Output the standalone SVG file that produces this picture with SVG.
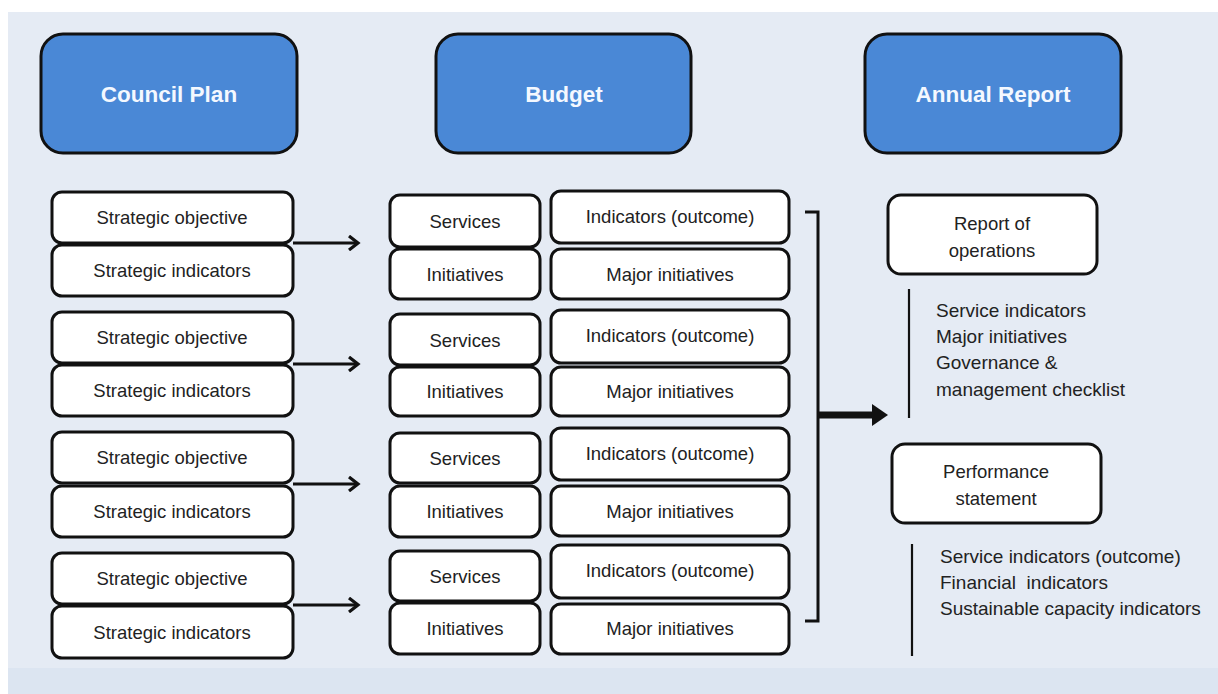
<svg xmlns="http://www.w3.org/2000/svg" width="1218" height="694" viewBox="0 0 1218 694">
<style>
.hdr{fill:#4a88d6;stroke:#111;stroke-width:3}
.hdrt{font-family:"Liberation Sans",Arial,sans-serif;font-weight:bold;font-size:22.5px;fill:#f4f8ff;text-anchor:middle}
.box{fill:#fff;stroke:#111;stroke-width:3}
.t{font-family:"Liberation Sans",Arial,sans-serif;font-size:18.5px;fill:#222;text-anchor:middle}
.l{font-family:"Liberation Sans",Arial,sans-serif;font-size:19px;fill:#222}
.c{stroke:#111;stroke-width:3;fill:none}
</style>
<defs>
<marker id="ah" markerWidth="14" markerHeight="16" refX="11" refY="8" orient="auto" markerUnits="userSpaceOnUse">
<path d="M2,1 L11,8 L2,15" fill="none" stroke="#111" stroke-width="3.2"/>
</marker>
<marker id="big" markerWidth="16" markerHeight="22" refX="2" refY="11" orient="auto" markerUnits="userSpaceOnUse">
<path d="M0,0 L16,11 L0,22 Z" fill="#111"/>
</marker>
</defs>
<rect width="1218" height="694" fill="#fff"/>
<rect x="8" y="12" width="1210" height="682" fill="#e5ebf4"/>
<rect x="8" y="668" width="1210" height="26" fill="#dce5f1"/>

<g id="hdr-council"><rect class="hdr" x="41" y="34" width="256" height="119" rx="22"/><text class="hdrt" x="169" y="102">Council Plan</text></g>
<g id="hdr-budget"><rect class="hdr" x="436" y="34" width="255" height="119" rx="22"/><text class="hdrt" x="564" y="102">Budget</text></g>
<g id="hdr-annual"><rect class="hdr" x="865" y="34" width="256" height="119" rx="22"/><text class="hdrt" x="993" y="102">Annual Report</text></g>

<g id="so1"><rect class="box" x="52" y="192" width="241" height="51" rx="10"/><text class="t" x="172" y="224">Strategic objective</text></g>
<g id="si1"><rect class="box" x="52" y="245" width="241" height="51" rx="10"/><text class="t" x="172" y="277">Strategic indicators</text></g>
<g id="so2"><rect class="box" x="52" y="312" width="241" height="51" rx="10"/><text class="t" x="172" y="344">Strategic objective</text></g>
<g id="si2"><rect class="box" x="52" y="365" width="241" height="51" rx="10"/><text class="t" x="172" y="397">Strategic indicators</text></g>
<g id="so3"><rect class="box" x="52" y="432" width="241" height="51" rx="10"/><text class="t" x="172" y="464">Strategic objective</text></g>
<g id="si3"><rect class="box" x="52" y="486" width="241" height="51" rx="10"/><text class="t" x="172" y="518">Strategic indicators</text></g>
<g id="so4"><rect class="box" x="52" y="553" width="241" height="51" rx="10"/><text class="t" x="172" y="585">Strategic objective</text></g>
<g id="si4"><rect class="box" x="52" y="606" width="241" height="52" rx="10"/><text class="t" x="172" y="639">Strategic indicators</text></g>

<g id="sv1"><rect class="box" x="390" y="195" width="150" height="52" rx="10"/><text class="t" x="465" y="228">Services</text></g>
<g id="in1"><rect class="box" x="390" y="249" width="150" height="50" rx="10"/><text class="t" x="465" y="281">Initiatives</text></g>
<g id="sv2"><rect class="box" x="390" y="314" width="150" height="51" rx="10"/><text class="t" x="465" y="347">Services</text></g>
<g id="in2"><rect class="box" x="390" y="367" width="150" height="49" rx="10"/><text class="t" x="465" y="398">Initiatives</text></g>
<g id="sv3"><rect class="box" x="390" y="433" width="150" height="50" rx="10"/><text class="t" x="465" y="465">Services</text></g>
<g id="in3"><rect class="box" x="390" y="486" width="150" height="51" rx="10"/><text class="t" x="465" y="518">Initiatives</text></g>
<g id="sv4"><rect class="box" x="390" y="551" width="150" height="50" rx="10"/><text class="t" x="465" y="583">Services</text></g>
<g id="in4"><rect class="box" x="390" y="603" width="150" height="51" rx="10"/><text class="t" x="465" y="635">Initiatives</text></g>

<g id="io1"><rect class="box" x="551" y="191" width="238" height="52" rx="10"/><text class="t" x="670" y="223">Indicators (outcome)</text></g>
<g id="mi1"><rect class="box" x="551" y="249" width="238" height="50" rx="10"/><text class="t" x="670" y="281">Major initiatives</text></g>
<g id="io2"><rect class="box" x="551" y="310" width="238" height="53" rx="10"/><text class="t" x="670" y="342">Indicators (outcome)</text></g>
<g id="mi2"><rect class="box" x="551" y="367" width="238" height="49" rx="10"/><text class="t" x="670" y="398">Major initiatives</text></g>
<g id="io3"><rect class="box" x="551" y="428" width="238" height="52" rx="10"/><text class="t" x="670" y="460">Indicators (outcome)</text></g>
<g id="mi3"><rect class="box" x="551" y="486" width="238" height="50" rx="10"/><text class="t" x="670" y="518">Major initiatives</text></g>
<g id="io4"><rect class="box" x="551" y="545" width="238" height="53" rx="10"/><text class="t" x="670" y="577">Indicators (outcome)</text></g>
<g id="mi4"><rect class="box" x="551" y="604" width="238" height="50" rx="10"/><text class="t" x="670" y="635">Major initiatives</text></g>

<g id="rop"><rect class="box" x="888" y="195" width="209" height="79" rx="13"/><text class="t" x="992" y="230">Report of</text><text class="t" x="992" y="257">operations</text></g>
<g id="rop-list"><line x1="909" y1="289" x2="909" y2="418" stroke="#111" stroke-width="2.2"/>
<text class="l" x="936" y="317">Service indicators</text>
<text class="l" x="936" y="343">Major initiatives</text>
<text class="l" x="936" y="369">Governance &amp;</text>
<text class="l" x="936" y="396">management checklist</text></g>

<g id="ps"><rect class="box" x="892" y="444" width="209" height="79" rx="13"/><text class="t" x="996" y="478">Performance</text><text class="t" x="996" y="505">statement</text></g>
<g id="ps-list"><line x1="912" y1="544" x2="912" y2="656" stroke="#111" stroke-width="2.2"/>
<text class="l" x="940" y="563">Service indicators (outcome)</text>
<text class="l" x="940" y="589" xml:space="preserve" style="white-space:pre">Financial  indicators</text>
<text class="l" x="940" y="615">Sustainable capacity indicators</text></g>

<g id="connectors">
<line class="c" x1="293" y1="243" x2="358" y2="243" marker-end="url(#ah)"/>
<line class="c" x1="293" y1="364" x2="358" y2="364" marker-end="url(#ah)"/>
<line class="c" x1="293" y1="484" x2="358" y2="484" marker-end="url(#ah)"/>
<line class="c" x1="293" y1="605" x2="358" y2="605" marker-end="url(#ah)"/>
<path class="c" d="M805,212 L818,212 L818,621 L805,621"/>
<line x1="818" y1="415" x2="874" y2="415" stroke="#111" stroke-width="7" marker-end="url(#big)"/>
</g>
</svg>
